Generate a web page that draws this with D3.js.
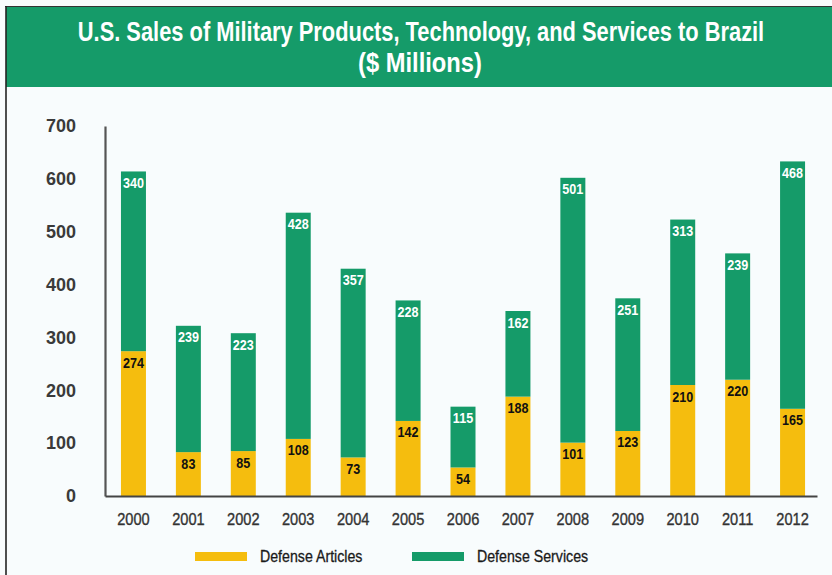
<!DOCTYPE html>
<html>
<head>
<meta charset="utf-8">
<script src="https://cdn.jsdelivr.net/npm/d3@7"></script>
<style>
  body { margin: 0; background: #fff; }
  svg { display: block; }
</style>
</head>
<body>
<div id="chart"></div>
<script>
const years = ["2000", "2001", "2002", "2003", "2004", "2005", "2006", "2007", "2008", "2009", "2010", "2011", "2012"];
const articles = [274, 83, 85, 108, 73, 142, 54, 188, 101, 123, 210, 220, 165];
const services = [340, 239, 223, 428, 357, 228, 115, 162, 501, 251, 313, 239, 468];
const yTicks = [0, 100, 200, 300, 400, 500, 600, 700];
const seriesNames = ["Defense Articles", "Defense Services"];
const colors = ["#f5bd0e", "#159b69"];

const width = 832;
const height = 575;
const font = "'Liberation Sans', Arial, Helvetica, sans-serif";
const squeeze = 0.86; // the original uses a condensed face

const svg = d3
  .select("#chart")
  .append("svg")
  .attr("width", width)
  .attr("height", height)
  .attr("font-family", font);

// page background and frame
svg.append("rect")
  .attr("x", 0).attr("y", 0)
  .attr("width", width).attr("height", height)
  .attr("fill", "#f8fcfd");

svg.append("rect")
  .attr("x", 6).attr("y", 7)
  .attr("width", width - 6).attr("height", 80)
  .attr("fill", "#159b69");

svg.append("line")
  .attr("x1", 5).attr("x2", width)
  .attr("y1", 6.5).attr("y2", 6.5)
  .attr("stroke", "#333").attr("stroke-width", 1.2);
svg.append("line")
  .attr("x1", 6).attr("x2", 6)
  .attr("y1", 6).attr("y2", height)
  .attr("stroke", "#222").attr("stroke-width", 1.6);

// title, squeezed to the width of the original
const titleLines = [
  { text: "U.S. Sales of Military Products, Technology, and Services to Brazil", x: 421, y: 41, w: 687 },
  { text: "($ Millions)", x: 420, y: 72, w: 124 }
];
titleLines.forEach(l => {
  const g = svg.append("g");
  const t = g.append("text")
    .attr("fill", "#fff")
    .attr("font-weight", "bold")
    .attr("font-size", 27)
    .attr("text-anchor", "middle")
    .text(l.text);
  const s = l.w / t.node().getComputedTextLength();
  g.attr("transform", `translate(${l.x},${l.y}) scale(${s},1)`);
});

// scales
const x = d3.scaleBand()
  .domain(years)
  .range([105, 817])
  .paddingInner(0.545)
  .paddingOuter(0.254)
  .align(0.572);

const y = d3.scaleLinear()
  .domain([0, 700])
  .range([496, 126]);

const data = years.map((yr, i) => ({ year: yr, articles: articles[i], services: services[i] }));
const stack = d3.stack().keys(["articles", "services"])(data);

// bars
const layers = svg.append("g")
  .selectAll("g")
  .data(stack)
  .join("g")
  .attr("fill", (d, i) => colors[i]);

layers.selectAll("rect")
  .data(d => d)
  .join("rect")
  .attr("x", d => x(d.data.year))
  .attr("y", d => y(d[1]))
  .attr("width", x.bandwidth())
  .attr("height", d => y(d[0]) - y(d[1]));

layers.selectAll("text")
  .data(d => d.map(v => ({ v, key: d.key })))
  .join("text")
  .attr("transform", d =>
    `translate(${x(d.v.data.year) + x.bandwidth() / 2},${y(d.v[1]) + 16.5}) scale(0.84,1)`)
  .attr("text-anchor", "middle")
  .attr("font-weight", "bold")
  .attr("font-size", 15)
  .attr("fill", d => d.key === "services" ? "#fff" : "#111")
  .text(d => d.v.data[d.key]);

// axes
const yAxis = svg.append("g")
  .attr("transform", "translate(105,0)")
  .call(d3.axisLeft(y).tickValues(yTicks).tickSize(0).tickSizeOuter(0).tickPadding(29));
yAxis.select(".domain").attr("stroke", "#555").attr("stroke-width", 2.2);
yAxis.selectAll("text")
  .attr("font-family", font)
  .attr("font-weight", "bold")
  .attr("font-size", 18)
  .attr("fill", "#3a3a3a");

const xAxis = svg.append("g")
  .attr("transform", "translate(0,496)")
  .call(d3.axisBottom(x).tickSize(0).tickSizeOuter(0).tickPadding(17));
xAxis.select(".domain").attr("stroke", "#444").attr("stroke-width", 2);
xAxis.selectAll("text")
  .attr("font-family", font)
  .attr("font-size", 17)
  .attr("fill", "#333")
  .attr("stroke", "#333")
  .attr("stroke-width", 0.35)
  .attr("transform", `scale(${squeeze},1)`);

// legend
const legendX = [195, 412];
const legend = svg.append("g")
  .selectAll("g")
  .data(seriesNames)
  .join("g")
  .attr("transform", (d, i) => `translate(${legendX[i]},552)`);
legend.append("rect")
  .attr("width", 52).attr("height", 9)
  .attr("fill", (d, i) => colors[i]);
legend.append("text")
  .attr("transform", `translate(65,10) scale(${squeeze},1)`)
  .attr("font-size", 16.5)
  .attr("fill", "#1a1a1a")
  .attr("stroke", "#1a1a1a")
  .attr("stroke-width", 0.3)
  .text(d => d);
</script>
</body>
</html>
